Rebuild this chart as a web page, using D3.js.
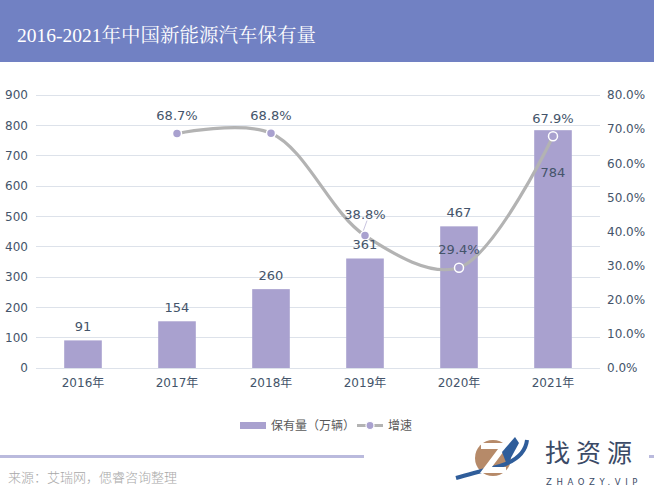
<!DOCTYPE html>
<html><head><meta charset="utf-8">
<script src="https://cdn.jsdelivr.net/npm/d3@7"></script>
<style>
body{margin:0;background:#fff;}
svg{display:block;}
</style></head>
<body>
<script>
const title = "2016-2021年中国新能源汽车保有量";
const categories = ["2016年","2017年","2018年","2019年","2020年","2021年"];
const stock = [91,154,260,361,467,784];
const growth = [null,68.7,68.8,38.8,29.4,67.9];
const leftTicks = [0,100,200,300,400,500,600,700,800,900];
const rightTicks = [0,10,20,30,40,50,60,70,80];
const legendLabels = ["保有量（万辆）","增速"];
const source = "来源：艾瑞网，偲睿咨询整理";
// label placement tweaks (style only)
const stockLabelDy = [-14,-14,-14,-14,-14,42];
const growthLabelDy = [0,-18,-18,-21,-18,-18];

(function(){
const W=654,H=498;
const svg=d3.select("body").append("svg").attr("width",W).attr("height",H);
const font="'DejaVu Sans','Noto Sans CJK SC',sans-serif";
const barColor="#a9a1cf", lineColor="#b3b3b3", textColor="#44546a";

// header
svg.append("rect").attr("x",0).attr("y",0).attr("width",W).attr("height",62).attr("fill","#7181c3");
svg.append("text").attr("x",17).attr("y",42).text(title)
  .attr("fill","#fff").attr("font-size",19.5).attr("font-family","'Liberation Serif','Noto Serif CJK SC','Noto Sans CJK SC',serif");

const pl=36,pr=600,pt=95,pb=368;
const x=d3.scaleBand().domain(categories).range([pl,pr]).paddingInner(0.6).paddingOuter(0.3);
const y=d3.scaleLinear().domain([0,900]).range([pb,pt]);
const y2=d3.scaleLinear().domain([0,80]).range([pb,pt]);

// grid
svg.append("g").selectAll("line").data(leftTicks).join("line")
  .attr("x1",pl).attr("x2",pr).attr("y1",d=>y(d)).attr("y2",d=>y(d))
  .attr("stroke","#dde2ea").attr("stroke-width",1).attr("shape-rendering","crispEdges");

// left axis
const gl=svg.append("g").attr("transform",`translate(${pl-8},0)`)
  .call(d3.axisLeft(y).tickValues(leftTicks).tickSize(0).tickPadding(0));
gl.select(".domain").remove();
gl.selectAll("text").attr("font-family",font).attr("font-size",12).attr("fill",textColor);

// right axis
const gr=svg.append("g").attr("transform",`translate(${pr+7},0)`)
  .call(d3.axisRight(y2).tickValues(rightTicks).tickSize(0).tickPadding(0).tickFormat(d=>d.toFixed(1)+"%"));
gr.select(".domain").remove();
gr.selectAll("text").attr("font-family",font).attr("font-size",12).attr("fill",textColor);

// x axis
const gx=svg.append("g").attr("transform",`translate(0,${pb})`)
  .call(d3.axisBottom(x).tickSize(0).tickPadding(10));
gx.select(".domain").remove();
gx.selectAll("text").attr("font-family",font).attr("font-size",12).attr("fill",textColor);

// bars
svg.append("g").selectAll("rect").data(stock).join("rect")
  .attr("x",(d,i)=>x(categories[i])).attr("width",x.bandwidth())
  .attr("y",d=>y(d)).attr("height",d=>pb-y(d)).attr("fill",barColor);

// line
const pts=growth.map((g,i)=>({g,i})).filter(d=>d.g!=null);
const cx=i=>x(categories[i])+x.bandwidth()/2;
svg.append("path").datum(pts)
  .attr("d",d3.line().x(d=>cx(d.i)).y(d=>y2(d.g)).curve(d3.curveCatmullRom.alpha(0.5)))
  .attr("fill","none").attr("stroke",lineColor).attr("stroke-width",3.2).attr("stroke-linecap","round");

// leader line for 2019
svg.append("line").attr("x1",cx(3)-2).attr("y1",y2(growth[3])-4).attr("x2",cx(3)+2).attr("y2",y2(growth[3])-15)
  .attr("stroke","#c9c5e0").attr("stroke-width",1);

svg.append("g").selectAll("circle").data(pts).join("circle")
  .attr("cx",d=>cx(d.i)).attr("cy",d=>y2(d.g)).attr("r",4.5)
  .attr("fill",barColor).attr("stroke","#fff").attr("stroke-width",1.5);

// stock labels
svg.append("g").selectAll("text").data(stock).join("text")
  .attr("x",(d,i)=>cx(i)).attr("y",(d,i)=>y(d)+stockLabelDy[i]).attr("dy","0.35em")
  .attr("text-anchor","middle").attr("font-family",font).attr("font-size",13).attr("fill",textColor)
  .text(d=>d);

// growth labels
svg.append("g").selectAll("text").data(pts).join("text")
  .attr("x",d=>cx(d.i)).attr("y",d=>y2(d.g)+growthLabelDy[d.i]).attr("dy","0.35em")
  .attr("text-anchor","middle").attr("font-family",font).attr("font-size",13).attr("fill",textColor)
  .text(d=>d.g.toFixed(1)+"%");

// legend
const lg=svg.append("g");
lg.append("rect").attr("x",240).attr("y",422).attr("width",26).attr("height",7).attr("fill",barColor);
lg.append("text").attr("x",271).attr("y",430).text(legendLabels[0]).attr("font-family",font).attr("font-size",12).attr("fill","#595959");
lg.append("line").attr("x1",357).attr("x2",383).attr("y1",425.5).attr("y2",425.5).attr("stroke",lineColor).attr("stroke-width",3);
lg.append("circle").attr("cx",370).attr("cy",425.5).attr("r",4).attr("fill",barColor).attr("stroke","#fff").attr("stroke-width",1.2);
lg.append("text").attr("x",388).attr("y",430).text(legendLabels[1]).attr("font-family",font).attr("font-size",12).attr("fill","#595959");

// bottom line
svg.append("rect").attr("x",0).attr("y",455).attr("width",364).attr("height",3).attr("fill","#babadd");
svg.append("rect").attr("x",649).attr("y",455).attr("width",5).attr("height",3).attr("fill","#babadd");

// source
svg.append("text").attr("x",8).attr("y",482).text(source)
  .attr("font-family","'Noto Sans CJK SC',sans-serif").attr("font-size",13).attr("font-weight",300).attr("fill","#a8a8a8");

// logo
const logo=svg.append("g");
logo.append("circle").attr("cx",493).attr("cy",458).attr("r",18).attr("fill","#b68a69");
logo.append("path").attr("d","M456,478 Q470,474 500,466 Q525,458 527,440")
  .attr("fill","none").attr("stroke","#2f5d9a").attr("stroke-width",4);
logo.append("path").attr("d","M481,446 L504,446 L486,470 L506,470")
  .attr("fill","none").attr("stroke","#fff").attr("stroke-width",6);
logo.append("path").attr("d","M502,452 L515,437 L519,443 L507,465")
  .attr("fill","#2f5d9a");
logo.append("text").attr("x",545).attr("y",462).text("找资源")
  .attr("font-family","'Noto Sans CJK SC',sans-serif").attr("font-size",25).attr("letter-spacing",6).attr("fill","#3b4a66");
logo.append("text").attr("x",546).attr("y",485).text("ZHAOZY.VIP")
  .attr("font-family","'DejaVu Sans',sans-serif").attr("font-size",8.5).attr("letter-spacing",4.6).attr("fill","#3b4a66");
})();
</script>
</body></html>
